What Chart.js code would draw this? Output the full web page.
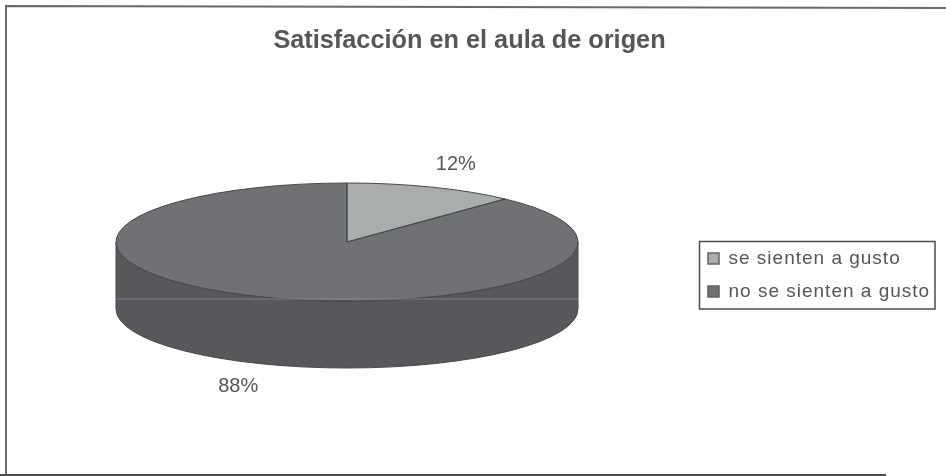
<!DOCTYPE html>
<html lang="es">
<head>
<meta charset="utf-8">
<title>Satisfacción en el aula de origen</title>
<script src="https://cdn.jsdelivr.net/npm/chart.js@4/dist/chart.umd.min.js"></script>
<style>
  html, body { margin: 0; padding: 0; background: #fefefe; }
  canvas { display: block; }
</style>
</head>
<body>
<canvas id="pie" width="946" height="476"></canvas>
<script>
const TITLE = 'Satisfacción en el aula de origen';
const categories = ['se sienten a gusto', 'no se sienten a gusto'];
const percents = [12, 88];

const topColors  = ['#a9adac', '#6f7174'];
const sideColors = ['#808483', '#56585b'];
const INK = '#54565a';
const EDGE = '#45474a';

// shape of the tilted pie, in pixels
const CX = 347, CY = 242, RX = 231, RY = 59, DEPTH = 67;
const SQUASH = RY / RX;

const font = (size, weight) => ({ family: "'Liberation Sans', Arial, sans-serif", size, weight });

// Chart.js only knows flat pies, so tilt it and extrude the front edge here
const tiltPlugin = {
  id: 'tilt',
  afterLayout(chart) {
    const area = chart.chartArea;
    area.left = CX - RX; area.right = CX + RX; area.width = RX * 2;
    area.top = CY - RX; area.bottom = CY + RX; area.height = RX * 2;

    const legend = chart.legend;
    legend.left = 694;
    legend.right = chart.width; // legend clips its text to this box
    legend.top = 275 - legend.height / 2;
    legend.bottom = legend.top + legend.height;

    // the legend text is set wider than the font's own spacing
    if (!legend.spaced) {
      const draw = legend.draw;
      legend.draw = function () {
        chart.ctx.save();
        chart.ctx.letterSpacing = '1px';
        draw.call(legend);
        chart.ctx.restore();
      };
      legend.spaced = true;
    }

    const title = chart.titleBlock;
    title.left = -3.5; title.right = 942.5;
  },
  beforeDatasetsDraw(chart) {
    const ctx = chart.ctx;
    const arcs = chart.getDatasetMeta(0).data;

    // side wall: only the part of each slice that faces the viewer
    arcs.forEach((arc, i) => {
      const from = Math.max(arc.startAngle, 0);
      const to = Math.min(arc.endAngle, Math.PI);
      if (from >= to) return;
      const rx = arc.outerRadius, ry = rx * SQUASH;
      ctx.beginPath();
      ctx.ellipse(arc.x, arc.y, rx, ry, 0, from, to);
      ctx.ellipse(arc.x, arc.y + DEPTH, rx, ry, 0, to, from, true);
      ctx.closePath();
      ctx.fillStyle = sideColors[i];
      ctx.fill();
      ctx.strokeStyle = EDGE;
      ctx.lineWidth = 1;
      ctx.stroke();
    });

    ctx.save();
    ctx.translate(CX, CY);
    ctx.scale(1, SQUASH);
    ctx.translate(-CX, -CY);
  },
  afterDatasetsDraw(chart) {
    const ctx = chart.ctx;
    const arcs = chart.getDatasetMeta(0).data;

    // outline while the path is squashed, stroke once the scale is gone
    const paths = arcs.map(arc => {
      const p = new Path2D();
      p.moveTo(arc.x, arc.y);
      p.ellipse(arc.x, arc.y, arc.outerRadius, arc.outerRadius * SQUASH, 0, arc.startAngle, arc.endAngle);
      p.closePath();
      return p;
    });
    ctx.restore();
    ctx.strokeStyle = EDGE;
    ctx.lineWidth = 1;
    paths.forEach(p => ctx.stroke(p));

    // pale scan streak across the wall
    ctx.strokeStyle = 'rgba(150,155,160,0.4)';
    ctx.lineWidth = 1.5;
    ctx.beginPath();
    ctx.moveTo(CX - RX, 299);
    ctx.lineTo(CX + RX, 299);
    ctx.stroke();

    // percentage labels, from each slice's middle angle
    ctx.fillStyle = INK;
    ctx.font = "20px 'Liberation Sans', Arial, sans-serif";
    ctx.textAlign = 'center';
    ctx.textBaseline = 'middle';
    arcs.forEach((arc, i) => {
      const mid = (arc.startAngle + arc.endAngle) / 2;
      const rx = arc.outerRadius, ry = rx * SQUASH;
      const front = Math.sin(mid) > 0 ? DEPTH : 0;
      const x = arc.x + Math.cos(mid) * rx * 1.28;
      const y = arc.y + front + Math.sin(mid) * ry * 1.41;
      ctx.fillText(percents[i] + '%', x, y);
    });
  },
  afterDraw(chart) {
    const ctx = chart.ctx;
    // legend box
    ctx.strokeStyle = '#4a4c4f';
    ctx.lineWidth = 1.5;
    ctx.strokeRect(699.5, 241.5, 235.5, 67.5);
    // chart frame, as scanned: slightly skewed and no right edge
    ctx.strokeStyle = '#67696c';
    ctx.lineWidth = 2;
    ctx.beginPath();
    ctx.moveTo(946, 8);
    ctx.lineTo(6, 6);
    ctx.lineTo(6, 475);
    ctx.stroke();
    ctx.strokeStyle = '#4a4c4f';
    ctx.beginPath();
    ctx.moveTo(0, 475);
    ctx.lineTo(886, 475);
    ctx.stroke();
  }
};

new Chart(document.getElementById('pie'), {
  type: 'pie',
  plugins: [tiltPlugin],
  data: {
    labels: categories,
    datasets: [{
      data: percents,
      backgroundColor: topColors,
      borderWidth: 0,
      clip: false
    }]
  },
  options: {
    responsive: false,
    animation: false,
    devicePixelRatio: 1,
    radius: RX,
    plugins: {
      tooltip: { enabled: false },
      title: {
        display: true,
        text: TITLE,
        color: INK,
        font: font(25.3, 'bold'),
        padding: { top: 26, bottom: 10 }
      },
      legend: {
        position: 'right',
        labels: {
          color: INK,
          font: font(19),
          boxWidth: 11,
          boxHeight: 11,
          padding: 14,
          generateLabels(chart) {
            const items = Chart.overrides.pie.plugins.legend.labels.generateLabels(chart);
            return items.map(item => ({ ...item, strokeStyle: '#5f6164', lineWidth: 1.5 }));
          }
        }
      }
    }
  }
});
</script>
</body>
</html>
